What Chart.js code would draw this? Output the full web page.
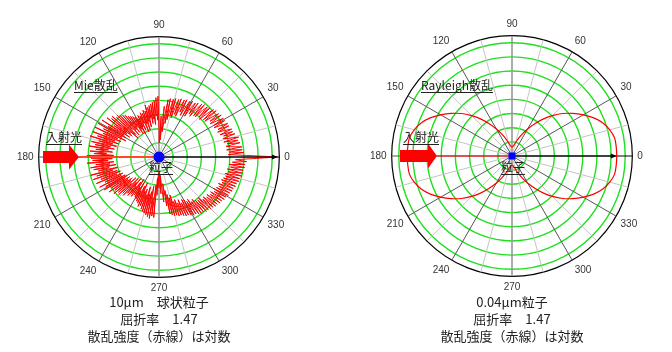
<!DOCTYPE html>
<html><head><meta charset="utf-8">
<script src="https://cdn.jsdelivr.net/npm/chart.js@4/dist/chart.umd.min.js"></script>
<style>
html,body{margin:0;padding:0;background:#fff;width:672px;height:352px;overflow:hidden;position:relative;font-family:"Noto Sans CJK JP",sans-serif;}
canvas{position:absolute;}
.cap{position:absolute;width:240px;text-align:center;font-size:13px;line-height:17px;color:#222;font-family:"Noto Sans CJK JP",sans-serif;}
</style></head><body>
<canvas id="c1" width="284" height="284" style="left:12px;top:15px"></canvas>
<canvas id="c2" width="284" height="284" style="left:365px;top:14px"></canvas>
<div class="cap" style="left:39px;top:293px">10μm　球状粒子<br>屈折率　1.47<br>散乱強度（赤線）は対数</div>
<div class="cap" style="left:392px;top:293px">0.04μm粒子<br>屈折率　1.47<br>散乱強度（赤線）は対数</div>
<script>
// scattering angle step (degrees) for each data set
const mieStep = 1;
const rayleighStep = 5;
// Mie scattering, log intensity (radius in grid units), angle 0..359 deg
const mieIntensity = [
 8.4,6.2,4.9,6.0,5.0,5.9,4.8,5.9,5.2,4.8,
 5.8,4.9,5.7,4.7,5.8,5.1,4.7,5.6,4.8,5.5,
 4.6,5.5,5.0,4.5,5.4,4.6,5.4,4.9,4.4,5.3,
 4.5,5.3,4.8,4.3,5.3,4.4,5.2,4.7,4.1,5.2,
 4.1,5.1,4.6,3.9,5.0,4.0,4.9,4.5,3.8,4.9,
 3.8,4.8,4.3,3.6,4.7,3.7,4.6,4.2,3.4,4.6,
 3.4,4.5,4.0,3.3,4.5,3.5,4.4,3.9,3.1,4.4,
 3.2,4.3,3.7,2.9,4.3,3.0,4.2,3.4,2.7,4.2,
 2.4,4.1,3.0,1.8,3.6,2.2,1.2,2.9,1.6,1.0,
 2.0,4.3,2.6,4.2,2.9,4.0,2.3,3.9,2.7,3.8,
 2.4,3.7,2.8,3.6,2.2,3.8,2.6,3.4,2.0,3.5,
 2.5,3.3,1.9,3.4,2.6,3.2,2.1,3.3,2.4,3.1,
 1.9,3.3,2.3,3.4,2.0,3.5,2.6,3.6,2.2,3.8,
 2.5,3.9,2.1,4.0,2.7,4.2,2.3,4.1,2.0,4.4,
 2.6,4.3,2.4,4.6,2.8,3.9,2.5,4.8,2.9,4.2,
 2.7,4.9,3.0,4.4,2.6,5.0,3.2,4.3,2.9,5.0,
 3.3,4.6,3.0,5.1,3.4,4.4,3.1,4.9,3.5,4.6,
 3.2,5.0,3.6,4.5,3.3,4.9,3.7,4.6,3.2,5.1,
 3.6,4.8,3.3,4.7,3.6,5.1,3.2,4.5,3.5,4.9,
 3.1,4.7,3.6,4.4,3.0,5.0,3.4,4.6,3.1,4.9,
 2.9,4.4,3.2,4.8,2.8,4.2,3.0,4.7,2.7,4.3,
 2.6,4.5,2.8,4.0,2.5,4.3,2.7,3.9,2.4,4.1,
 2.6,3.8,2.2,3.9,2.7,3.6,2.1,3.7,2.4,3.4,
 2.0,3.5,2.6,3.3,2.2,3.4,1.9,3.2,2.5,3.3,
 2.1,3.4,2.7,3.5,2.3,3.6,2.0,3.8,2.6,3.7,
 2.4,3.9,2.8,4.0,2.2,4.1,2.7,4.2,2.5,4.3,
 2.1,4.4,2.9,4.2,2.0,4.3,1.5,2.7,1.1,1.8,
 2.2,1.0,1.5,2.6,1.3,2.0,3.2,2.5,1.9,3.5,
 2.4,4.1,2.7,4.2,3.0,4.3,2.8,4.3,3.3,4.4,
 3.2,4.4,3.5,4.5,3.3,4.6,3.6,4.6,3.4,4.7,
 3.5,4.8,3.7,4.8,3.6,4.9,3.9,5.0,3.8,5.0,
 4.0,5.1,4.1,5.1,4.0,5.2,4.3,5.2,4.2,5.3,
 4.4,5.3,4.3,5.4,4.5,5.4,4.4,5.5,4.6,5.5,
 4.5,5.6,4.6,5.6,4.7,5.7,4.6,5.7,4.8,5.8,
 4.7,5.8,4.8,5.9,4.9,5.9,4.8,6.0,5.0,6.0,
 4.9,6.0,5.1,6.1,5.0,6.1,5.2,6.2,5.4,6.6
];
// Rayleigh scattering, log intensity, angle 0..355 deg in 5 deg steps
const rayleighIntensity = [
 7.40,7.39,7.36,7.15,6.83,6.37,5.81,5.24,4.67,4.04,3.40,2.76,2.20,1.70,1.31,0.99,0.78,0.67,
 0.64,0.67,0.78,0.99,1.31,1.70,2.20,2.76,3.40,4.04,4.67,5.24,5.81,6.37,6.83,7.15,7.36,7.39,
 7.40,7.39,7.36,7.15,6.83,6.37,5.81,5.24,4.67,4.04,3.40,2.76,2.20,1.70,1.31,0.99,0.78,0.67,
 0.64,0.67,0.78,0.99,1.31,1.70,2.20,2.76,3.40,4.04,4.67,5.24,5.81,6.37,6.83,7.15,7.36,7.39
];
// radial grid rings (last one = outer frame)
const ringValues = [0,1,2,3,4,5,6,7,8,8.5];
// angle tick labels shown around the plot
const angleTicks = [0,30,60,90,120,150,180,210,240,270,300,330];

const polarDecor = {
  id: 'polarDecor',
  afterDatasetsDraw(chart, args, o) {
    const s = chart.scales.r, ctx = chart.ctx;
    const cx = s.xCenter, cy = s.yCenter;
    const labels = chart.data.labels;
    ctx.save();
    // incident beam line
    ctx.strokeStyle = o.beamColor; ctx.lineWidth = o.beamWidth;
    ctx.beginPath(); ctx.moveTo(cx + o.arrow[2], cy); ctx.lineTo(cx, cy); ctx.stroke();
    // forward direction arrow to the 0 deg value
    const i0 = labels.indexOf(0);
    const p = s.getPointPositionForValue(i0, chart.data.datasets[0].data[i0]);
    ctx.strokeStyle = '#000'; ctx.fillStyle = '#000'; ctx.lineWidth = 1;
    ctx.beginPath(); ctx.moveTo(cx, cy); ctx.lineTo(p.x - 2, p.y); ctx.stroke();
    ctx.beginPath(); ctx.moveTo(p.x, p.y); ctx.lineTo(p.x - 6, p.y - 2.5); ctx.lineTo(p.x - 6, p.y + 2.5); ctx.closePath(); ctx.fill();
    // big incident arrow
    const [tail, neck, tip] = o.arrow;
    ctx.fillStyle = '#ff0000';
    ctx.beginPath();
    ctx.moveTo(cx + tail, cy - 6); ctx.lineTo(cx + neck, cy - 6); ctx.lineTo(cx + neck, cy - 12.5);
    ctx.lineTo(cx + tip, cy); ctx.lineTo(cx + neck, cy + 12.5); ctx.lineTo(cx + neck, cy + 6);
    ctx.lineTo(cx + tail, cy + 6); ctx.closePath(); ctx.fill();
    // particle
    ctx.fillStyle = '#0000ff';
    if (o.square) { ctx.fillRect(cx - 3.5, cy - 3.5, 7, 7); }
    else { ctx.beginPath(); ctx.arc(cx, cy, 5.5, 0, Math.PI * 2); ctx.fill(); }
    // annotation texts
    ctx.font = '12px "Noto Sans CJK JP", sans-serif';
    ctx.textBaseline = 'middle';
    ctx.fillStyle = '#222'; ctx.strokeStyle = '#222'; ctx.lineWidth = 1;
    for (const t of o.texts) {
      const w = ctx.measureText(t.text).width;
      const x0 = t.center ? cx + t.dx - w / 2 : cx + t.dx;
      ctx.textAlign = 'left';
      ctx.fillText(t.text, x0, cy + t.dy);
      const uy = Math.round(cy + t.dy + 7) + 0.5;
      ctx.beginPath(); ctx.moveTo(x0, uy); ctx.lineTo(x0 + w, uy); ctx.stroke();
    }
    ctx.restore();
  }
};

function makeChart(id, values, step, lineWidth, tension, decor) {
  const n = 360 / step;
  const labels = [], data = [];
  for (let i = 0; i < n; i++) {
    const a = ((90 - i * step) % 360 + 360) % 360;
    labels.push(a);
    data.push(values[a / step]);
  }
  return new Chart(document.getElementById(id), {
    type: 'radar',
    data: { labels, datasets: [{ data, borderColor: '#ff0000', borderWidth: lineWidth, pointRadius: 0, fill: false, tension, backgroundColor: 'rgba(0,0,0,0)' }] },
    plugins: [polarDecor],
    options: {
      responsive: false, animation: false, events: [],
      layout: { padding: 0 },
      plugins: { legend: { display: false }, tooltip: { enabled: false }, polarDecor: decor },
      scales: { r: {
        min: 0, max: 8.5,
        afterBuildTicks: sc => { sc.ticks = ringValues.map(v => ({ value: v })); },
        ticks: { display: false },
        grid: {
          circular: true,
          color: c => c.tick && c.tick.value === 8.5 ? '#000' : '#1ee01e',
          lineWidth: c => c.tick && c.tick.value === 8.5 ? 1.2 : 1.4
        },
        angleLines: {
          color: c => { const a = labels[c.index]; if (a === 0) return '#000'; if (a === 90 || a === 270) return '#999'; if (a % 30 === 0) return '#555'; if (a % 15 === 0) return '#c4c4c4'; return 'rgba(0,0,0,0)'; },
          lineWidth: c => { const a = labels[c.index]; if (a === 90 || a === 270) return 1.6; return a % 15 === 0 ? 1 : 0; }
        },
        pointLabels: {
          display: true, padding: 5, color: '#333',
          font: { family: 'Liberation Sans', size: 10 },
          callback: (lab) => angleTicks.includes(lab) ? String(lab) : ''
        }
      } }
    }
  });
}

makeChart('c1', mieIntensity, mieStep, 1, 0, {
  beamColor: '#ff4a2a', beamWidth: 2, arrow: [-116, -90, -80], square: false,
  texts: [ { text: 'Mie散乱', dx: -85, dy: -72 }, { text: '入射光', dx: -113, dy: -20 }, { text: '粒子', dx: 2, dy: 10, center: true } ]
});
makeChart('c2', rayleighIntensity, rayleighStep, 1.2, 0.3, {
  beamColor: '#ff0000', beamWidth: 1, arrow: [-112, -84, -75], square: true,
  texts: [ { text: 'Rayleigh散乱', dx: -91, dy: -71 }, { text: '入射光', dx: -109, dy: -19 }, { text: '粒子', dx: 1, dy: 11, center: true } ]
});
</script>
</body></html>
